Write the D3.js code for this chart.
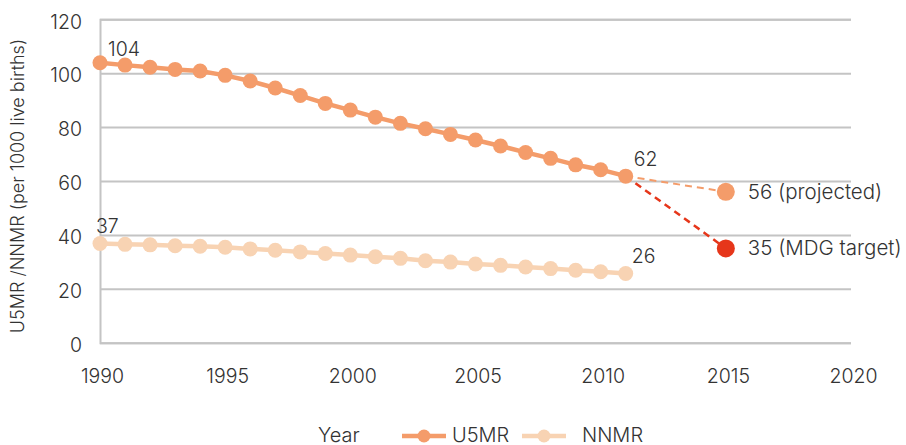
<!DOCTYPE html>
<html>
<head>
<meta charset="utf-8">
<script src="https://cdn.jsdelivr.net/npm/d3@7.9.0/dist/d3.min.js"></script>
<style>
  body { margin: 0; background: #fff; }
  svg text { font-family: Inter, "Liberation Sans", Arial, sans-serif; font-weight: 300; fill: #333; }
</style>
</head>
<body>
<svg id="chart" width="906" height="445"></svg>
<script>
// data
const years = d3.range(1990, 2012);
const u5mr = [103.9, 103.0, 102.2, 101.4, 100.8, 99.2, 97.1, 94.5, 91.7, 88.8, 86.3, 83.7,
  81.4, 79.4, 77.3, 75.2, 73.0, 70.6, 68.4, 66.0, 64.2, 61.8];
const nnmr = [36.8, 36.5, 36.3, 36.0, 35.8, 35.4, 34.8, 34.3, 33.7, 33.1, 32.5, 31.9,
  31.3, 30.4, 29.9, 29.2, 28.7, 28.1, 27.5, 26.9, 26.3, 25.7];
const projYear = 2015;
const projected = 56;
const mdgTarget = 35;
const yTicks = [0, 20, 40, 60, 80, 100, 120];
const xTicks = [1990, 1995, 2000, 2005, 2010, 2015, 2020];

const cU5 = '#f49c6a', cNN = '#f8d3b3', cRed = '#e6361a', cGrid = '#c4c4c4';
const fs = 19.5;

const svg = d3.select('#chart');
const x = d3.scaleLinear().domain([1990, 2020]).range([100, 851]);
const y = d3.scaleLinear().domain([0, 120]).range([342.7, 19.3]);

// grid
const yAxis = d3.axisLeft(y).tickValues(yTicks).tickSize(-(851 - 100)).tickPadding(18);
svg.append('g').attr('transform', 'translate(100,0)').call(yAxis)
  .call(g => g.select('.domain').attr('stroke', cGrid).attr('stroke-width', 2))
  .call(g => g.selectAll('.tick line').attr('stroke', cGrid).attr('stroke-width', 2))
  .call(g => g.selectAll('.tick text').attr('font-size', fs).attr('dy', '0.45em').attr('fill', '#333'));

const xAxis = d3.axisBottom(x).tickValues(xTicks).tickFormat(d3.format('d')).tickSize(0).tickPadding(26);
svg.append('g').attr('transform', 'translate(0,342.7)').call(xAxis)
  .call(g => g.select('.domain').remove())
  .call(g => g.selectAll('.tick text').attr('font-size', fs).attr('fill', '#333').attr('dx', 2));

svg.append('text')
  .attr('transform', 'translate(24,186) rotate(-90)')
  .attr('text-anchor', 'middle').attr('font-size', 18)
  .text('U5MR /NNMR (per 1000 live births)');

// projection dashes
const last = years.length - 1;
svg.append('line')
  .attr('x1', x(years[last])).attr('y1', y(u5mr[last]))
  .attr('x2', x(projYear)).attr('y2', y(projected))
  .attr('stroke', cU5).attr('stroke-width', 2).attr('stroke-dasharray', '7,5');
svg.append('line')
  .attr('x1', x(years[last])).attr('y1', y(u5mr[last]))
  .attr('x2', x(projYear)).attr('y2', y(mdgTarget))
  .attr('stroke', cRed).attr('stroke-width', 2.5).attr('stroke-dasharray', '7,5');

const line = d3.line().x((d, i) => x(years[i])).y(d => y(d));
function series(vals, color) {
  svg.append('path').datum(vals).attr('d', line)
    .attr('fill', 'none').attr('stroke', color).attr('stroke-width', 4.5);
  svg.append('g').selectAll('circle').data(vals).join('circle')
    .attr('cx', (d, i) => x(years[i])).attr('cy', d => y(d)).attr('r', 7.5)
    .attr('fill', color);
}
series(nnmr, cNN);
series(u5mr, cU5);

svg.append('circle').attr('cx', x(projYear)).attr('cy', y(projected)).attr('r', 9).attr('fill', cU5);
svg.append('circle').attr('cx', x(projYear)).attr('cy', y(mdgTarget)).attr('r', 9).attr('fill', cRed);

// labels
const labels = [
  { t: d3.format('.0f')(u5mr[0]), xv: years[0], yv: u5mr[0], dx: 8, dy: -7 },
  { t: d3.format('.0f')(nnmr[0]), xv: years[0], yv: nnmr[0], dx: -4, dy: -11 },
  { t: d3.format('.0f')(u5mr[last]), xv: years[last], yv: u5mr[last], dx: 8, dy: -10 },
  { t: d3.format('.0f')(nnmr[last]), xv: years[last], yv: nnmr[last], dx: 6, dy: -10 },
  { t: projected + ' (projected)', xv: projYear, yv: projected, dx: 22, dy: 7 },
  { t: mdgTarget + ' (MDG target)', xv: projYear, yv: mdgTarget, dx: 22, dy: 7 }
];
svg.append('g').selectAll('text').data(labels).join('text')
  .attr('x', d => x(d.xv) + d.dx).attr('y', d => y(d.yv) + d.dy)
  .attr('font-size', d => d.t.length > 3 ? 20.5 : fs).text(d => d.t);

// legend
const lg = svg.append('g').attr('transform', 'translate(0,436)');
lg.append('text').attr('x', 318).attr('y', 6).attr('font-size', 20).text('Year');
[{ name: 'U5MR', c: cU5, x0: 402 }, { name: 'NNMR', c: cNN, x0: 522 }].forEach(s => {
  lg.append('line').attr('x1', s.x0).attr('x2', s.x0 + 44).attr('y1', 0).attr('y2', 0)
    .attr('stroke', s.c).attr('stroke-width', 4.5);
  lg.append('circle').attr('cx', s.x0 + 22).attr('cy', 0).attr('r', 6.5).attr('fill', s.c);
  lg.append('text').attr('x', s.x0 + (s.name === 'U5MR' ? 50 : 60)).attr('y', 6).attr('font-size', 20).text(s.name);
});
</script>
</body>
</html>
